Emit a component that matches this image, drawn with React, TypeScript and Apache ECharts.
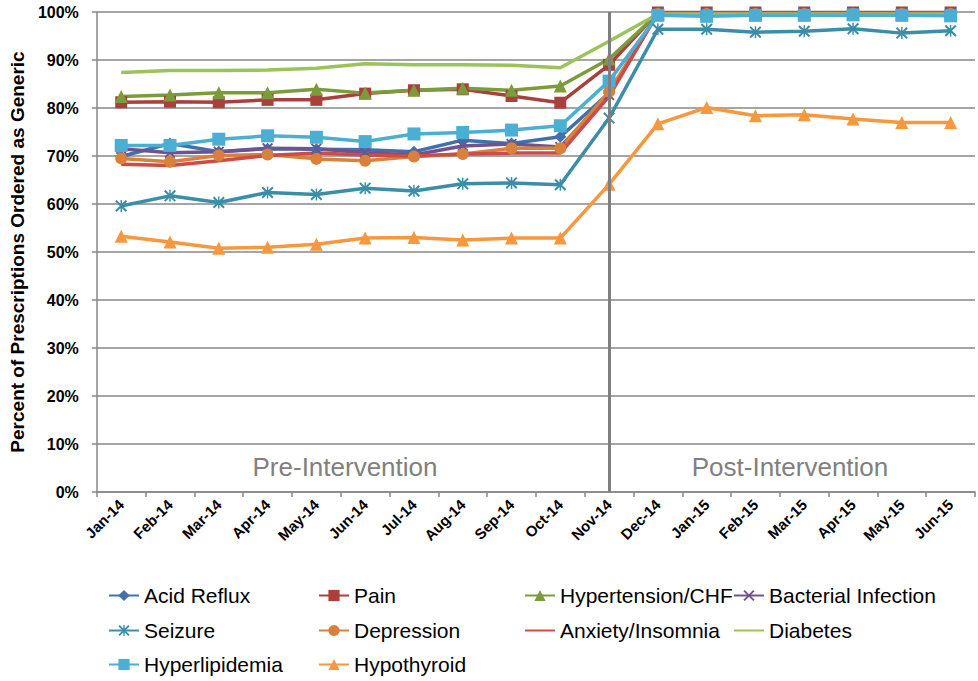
import React, { useEffect, useRef } from "react";
import * as echarts from "echarts";

const months = [
  "Jan-14", "Feb-14", "Mar-14", "Apr-14", "May-14", "Jun-14", "Jul-14", "Aug-14", "Sep-14",
  "Oct-14", "Nov-14", "Dec-14", "Jan-15", "Feb-15", "Mar-15", "Apr-15", "May-15", "Jun-15",
];

const acidReflux = [69.9, 72.6, 70.9, 71.5, 71.4, 71.3, 70.9, 73.3, 72.6, 74.0, 83.1, 99.8, 99.8, 99.8, 99.8, 99.8, 99.8, 99.8];
const pain = [81.2, 81.3, 81.2, 81.7, 81.7, 83.0, 83.7, 83.9, 82.5, 81.1, 89.0, 99.9, 99.9, 99.9, 99.9, 99.9, 99.9, 99.9];
const hypertension = [82.4, 82.7, 83.2, 83.2, 83.9, 83.1, 83.7, 84.1, 83.7, 84.6, 90.2, 99.7, 99.7, 99.7, 99.7, 99.7, 99.7, 99.7];
const bacterial = [71.5, 70.7, 70.9, 71.6, 71.5, 70.7, 70.2, 72.1, 72.5, 71.9, 82.7, 99.8, 99.8, 99.8, 99.8, 99.8, 99.8, 99.8];
const seizure = [59.6, 61.7, 60.3, 62.4, 62.0, 63.3, 62.7, 64.2, 64.4, 64.0, 77.9, 96.4, 96.4, 95.8, 96.0, 96.5, 95.6, 96.1];
const depression = [69.5, 68.8, 70.1, 70.3, 69.4, 69.0, 69.9, 70.4, 71.6, 71.6, 83.4, 99.6, 99.6, 99.6, 99.6, 99.6, 99.6, 99.6];
const anxiety = [68.3, 68.0, 69.0, 70.1, 70.6, 70.2, 70.0, 70.4, 70.6, 70.6, 82.4, 99.8, 99.8, 99.8, 99.8, 99.8, 99.8, 99.8];
const diabetes = [87.4, 87.8, 87.8, 87.9, 88.3, 89.2, 89.0, 89.0, 88.9, 88.4, 93.9, 99.6, 99.6, 99.6, 99.6, 99.6, 99.6, 99.6];
const hyperlipidemia = [72.2, 72.2, 73.5, 74.2, 73.9, 73.0, 74.6, 74.9, 75.4, 76.3, 85.6, 99.3, 99.1, 99.3, 99.3, 99.4, 99.3, 99.2];
const hypothyroid = [53.3, 52.1, 50.8, 51.0, 51.6, 52.9, 53.0, 52.5, 52.9, 52.9, 64.1, 76.7, 80.1, 78.4, 78.6, 77.7, 77.0, 77.0];

const yTicks = [0, 10, 20, 30, 40, 50, 60, 70, 80, 90, 100];
const interventionMonth = "Nov-14";
const phaseLabels = ["Pre-Intervention", "Post-Intervention"];

const legendRows = [
  ["Acid Reflux", "Pain", "Hypertension/CHF", "Bacterial Infection"],
  ["Seizure", "Depression", "Anxiety/Insomnia", "Diabetes"],
  ["Hyperlipidemia", "Hypothyroid"],
];
const lineOnly = ["Anxiety/Insomnia", "Diabetes"];

const X_PATH = "path://M0,1.2 L1.2,0 L10,8.8 L8.8,10 Z M8.8,0 L10,1.2 L1.2,10 L0,8.8 Z";
const STAR_PATH = "path://M0,1.2 L1.2,0 L10,8.8 L8.8,10 Z M8.8,0 L10,1.2 L1.2,10 L0,8.8 Z M4.4,0 L5.6,0 L5.6,10 L4.4,10 Z";

const FONT = "'Liberation Sans', Arial, sans-serif";

export default function App() {
  const ref = useRef<HTMLDivElement>(null);

  useEffect(() => {
    if (!ref.current) return;
    const chart = echarts.init(ref.current, undefined, { renderer: "svg" });

    const mk = (name: string, data: number[], color: string, symbol: string, size: number, extra: any = {}) => ({
      name,
      type: "line",
      data,
      symbol,
      symbolSize: size,
      showSymbol: symbol !== "none",
      clip: false,
      lineStyle: { color, width: 3.5 },
      itemStyle: { color, borderWidth: 0 },
      emphasis: { disabled: true },
      ...extra,
    });

    const series: any[] = [
      mk("Acid Reflux", acidReflux, "#4170AA", "diamond", 12, {
        markLine: {
          silent: true,
          symbol: "none",
          label: { show: false },
          lineStyle: { color: "#7F7F7F", width: 3, type: "solid" },
          data: [{ xAxis: interventionMonth }],
        },
      }),
      mk("Pain", pain, "#A9403D", "rect", 12),
      mk("Hypertension/CHF", hypertension, "#7C9C3C", "triangle", 13),
      mk("Bacterial Infection", bacterial, "#6F5290", X_PATH, 11),
      mk("Seizure", seizure, "#3A8EA8", STAR_PATH, 12),
      mk("Depression", depression, "#D9813A", "circle", 12),
      mk("Anxiety/Insomnia", anxiety, "#CC4C48", "none", 0),
      mk("Diabetes", diabetes, "#9BC35A", "none", 0),
      mk("Hyperlipidemia", hyperlipidemia, "#4AAFD2", "rect", 13),
      mk("Hypothyroid", hypothyroid, "#F7973E", "triangle", 13),
    ];

    const colLefts = [108, 318, 524, 733];
    const rowTops = [585, 620, 654];
    const legends: any[] = [];
    legendRows.forEach((row, r) =>
      row.forEach((name, c) => {
        legends.push({
          orient: "horizontal",
          left: colLefts[c],
          top: rowTops[r],
          padding: 0,
          itemWidth: 30,
          itemHeight: 14,
          itemGap: 0,
          selectedMode: false,
          data: [
            lineOnly.includes(name)
              ? { name, itemStyle: { opacity: 0 } }
              : { name },
          ],
          textStyle: { fontFamily: FONT, fontSize: 21, color: "#000" },
        });
      })
    );

    chart.setOption({
      animation: false,
      grid: { left: 88, right: 3, top: 12, bottom: 189, containLabel: false },
      xAxis: {
        type: "category",
        data: months,
        boundaryGap: true,
        axisLine: { lineStyle: { color: "#878787", width: 1.5 } },
        axisTick: { show: true, length: 5, lineStyle: { color: "#878787", width: 1.5 } },
        axisLabel: {
          rotate: 45,
          interval: 0,
          margin: 10,
          fontFamily: FONT,
          fontSize: 15,
          fontWeight: "bold",
          color: "#000",
        },
        splitLine: { show: false },
      },
      yAxis: {
        type: "value",
        min: yTicks[0],
        max: yTicks[yTicks.length - 1],
        interval: 10,
        name: "Percent of Prescriptions Ordered as Generic",
        nameLocation: "middle",
        nameGap: 66,
        nameTextStyle: { fontFamily: FONT, fontSize: 19, fontWeight: "bold", color: "#000" },
        axisLine: { show: true, lineStyle: { color: "#878787", width: 1.5 } },
        axisTick: { show: true, length: 5, lineStyle: { color: "#878787", width: 1.5 } },
        axisLabel: {
          formatter: (v: number) => v + "%",
          margin: 18,
          fontFamily: FONT,
          fontSize: 16,
          fontWeight: "bold",
          color: "#000",
        },
        splitLine: { show: true, lineStyle: { color: "#878787", width: 1.5 } },
      },
      legend: legends,
      graphic: [
        {
          type: "text",
          x: 345,
          y: 467,
          style: {
            text: phaseLabels[0],
            fontFamily: FONT,
            fontSize: 26,
            fill: "#808080",
            textAlign: "center",
            textVerticalAlign: "middle",
          },
        },
        {
          type: "text",
          x: 790,
          y: 467,
          style: {
            text: phaseLabels[1],
            fontFamily: FONT,
            fontSize: 26,
            fill: "#808080",
            textAlign: "center",
            textVerticalAlign: "middle",
          },
        },
      ],
      series,
    });

    return () => chart.dispose();
  }, []);

  return (
    <div
      ref={ref}
      style={{ position: "fixed", left: 0, top: 0, width: 978, height: 681, background: "#fff" }}
    />
  );
}
